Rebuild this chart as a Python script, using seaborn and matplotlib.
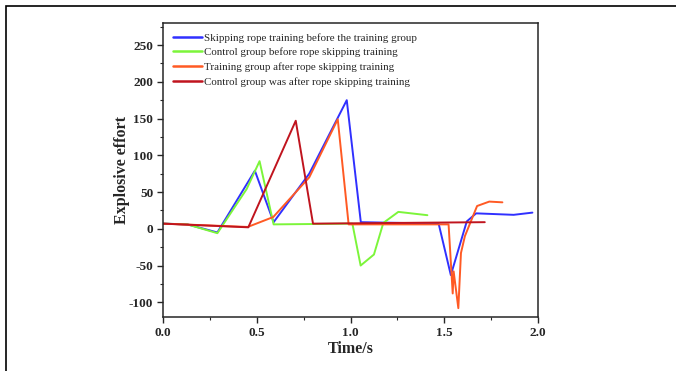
import numpy as np
import pandas as pd
import seaborn as sns
import matplotlib.pyplot as plt
from matplotlib.patches import Rectangle

# series (time in s, explosive effort)
blue_t = [0.0, 0.13, 0.29, 0.49, 0.59, 0.78, 0.93, 0.98, 1.055, 1.47, 1.535, 1.62, 1.67, 1.87, 1.97]
blue_y = [7, 6, -5, 79, 9, 75, 150, 175, 9, 7, -63, 10, 21, 19, 22]

green_t = [0.0, 0.13, 0.29, 0.446, 0.515, 0.59, 1.01, 1.054, 1.125, 1.175, 1.255, 1.41]
green_y = [7, 6, -6, 54, 92, 6, 7, -50, -35, 8, 23, 18.5]

orange_t = [0.0, 0.452, 0.588, 0.78, 0.932, 0.99, 1.523, 1.545, 1.55, 1.575, 1.589, 1.61, 1.675, 1.74, 1.81]
orange_y = [7, 2.5, 16, 70, 149, 6, 6, -88, -58, -108, -33, -10, 31, 37, 36]

red_t = [0.0, 0.455, 0.708, 0.8, 1.716]
red_y = [7, 2, 147, 7, 9]

labels = ["Skipping rope training before the training group",
          "Control group before rope skipping training",
          "Training group after rope skipping training",
          "Control group was after rope skipping training"]
colors = ["#3030ff", "#7cf53a", "#ff5a24", "#c0141e"]

frames = []
for lab, t, y in zip(labels, [blue_t, green_t, orange_t, red_t],
                     [blue_y, green_y, orange_y, red_y]):
    frames.append(pd.DataFrame({"Time/s": t, "Explosive effort": y, "series": lab}))
df = pd.concat(frames, ignore_index=True)

sns.set_style("ticks")
plt.rcParams['font.family'] = ['Liberation Serif', 'DejaVu Serif']
plt.rcParams['axes.unicode_minus'] = False

fig = plt.figure(figsize=(6.76, 3.71), dpi=100)
ax = fig.add_axes([0.2411, 0.1456, 0.5548, 0.7924])

sns.lineplot(data=df, x="Time/s", y="Explosive effort", hue="series",
             palette=dict(zip(labels, colors)), sort=False, estimator=None,
             linewidth=1.4, ax=ax)

ax.set_xlim(0, 2.0)
ax.set_ylim(-120, 280)
ax.set_xticks([0.0, 0.5, 1.0, 1.5, 2.0])
ax.set_xticks([0.25, 0.75, 1.25, 1.75], minor=True)
ax.set_yticks([-100, -50, 0, 50, 100, 150, 200, 250])
ax.set_yticks(np.arange(-125, 276, 25)[1:], minor=True)
ax.set_xticklabels(["0.0", "0.5", "1.0", "1.5", "2.0"])
ax.tick_params(axis='both', which='major', direction='out', length=4, width=1,
               labelsize=9.5, pad=3)
ax.tick_params(axis='both', which='minor', direction='out', length=2.5, width=0.8)
for lbl in ax.get_xticklabels() + ax.get_yticklabels():
    lbl.set_fontweight('bold')
for s in ax.spines.values():
    s.set_linewidth(1.1)
    s.set_visible(True)

ax.set_xlabel("Time/s", fontsize=11.5, fontweight='bold', labelpad=2)
ax.set_ylabel("Explosive effort", fontsize=11.5, fontweight='bold', labelpad=-1)

leg = ax.legend(loc='upper left', frameon=False, fontsize=7.9, handlelength=2.7,
                handletextpad=0.1, labelspacing=0.45, borderaxespad=0.5,
                bbox_to_anchor=(0.0, 1.0))
for h in leg.get_lines():
    h.set_linewidth(1.8)

# outer frame around the picture
fig.patches.append(Rectangle((6 / 676, -0.2), 1.2, 1.2 - 6 / 371, fill=False,
                             edgecolor='black', linewidth=1.2,
                             transform=fig.transFigure, figure=fig))

fig.savefig("out.png", dpi=100)
